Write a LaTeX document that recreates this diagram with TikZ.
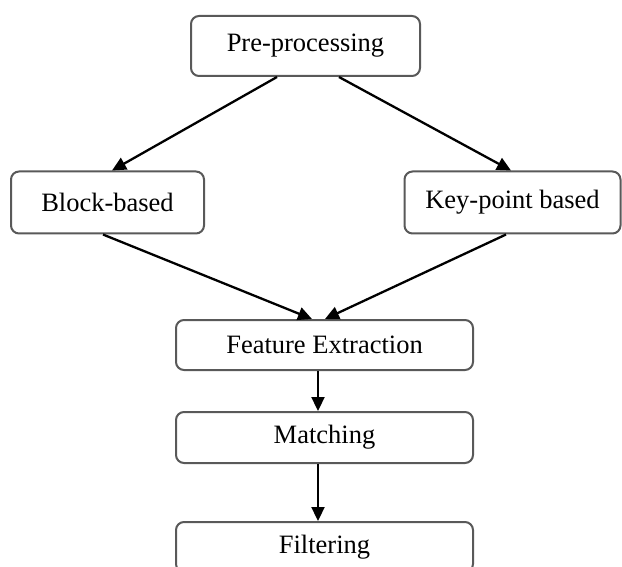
\documentclass[tikz,border=0pt]{standalone}
\usepackage{fontspec}
\setmainfont{Liberation Serif}
\usetikzlibrary{arrows.meta}
\begin{document}
\begin{tikzpicture}[x=1pt,y=-1pt,
  box/.style={draw=black!65, line width=2pt, rounded corners=8pt, fill=white,
    inner sep=0pt, font=\fontsize{26.5}{30}\selectfont},
  arr/.style={draw=black, line width=2.3pt, -{Triangle[length=14pt,width=13pt]}}]
\useasboundingbox (0,0) rectangle (622,567);
\clip (0,0) rectangle (622,567);
\node[box, minimum width=229pt, minimum height=60pt] (pre) at (305.5,46) {Pre-processing};
\node[box, minimum width=193pt, minimum height=62pt] (blk) at (107.5,202.5) {Block-based};
\node[box, minimum width=216pt, minimum height=62pt] (key) at (512.5,202.5) {Key-point based};
\node[box, minimum width=297pt, minimum height=50pt] (fea) at (324.5,345) {Feature Extraction};
\node[box, minimum width=297pt, minimum height=51pt] (mat) at (324.5,437.5) {Matching};
\node[box, minimum width=297pt, minimum height=50pt] (fil) at (324.5,547) {Filtering};
\draw[arr] ([xshift=-28.5pt]pre.south) -- ([xshift=4.5pt]blk.north);
\draw[arr] ([xshift=33.5pt]pre.south) -- ([xshift=-1.5pt]key.north);
\draw[arr] ([xshift=-4.5pt]blk.south) -- ([xshift=-12.5pt]fea.north);
\draw[arr] ([xshift=-6.5pt]key.south) -- ([xshift=0.5pt]fea.north);
\draw[arr] ([xshift=-6.5pt]fea.south) -- ([xshift=-6.5pt]mat.north);
\draw[arr] ([xshift=-6.5pt]mat.south) -- ([xshift=-6.5pt]fil.north);
\end{tikzpicture}
\end{document}
